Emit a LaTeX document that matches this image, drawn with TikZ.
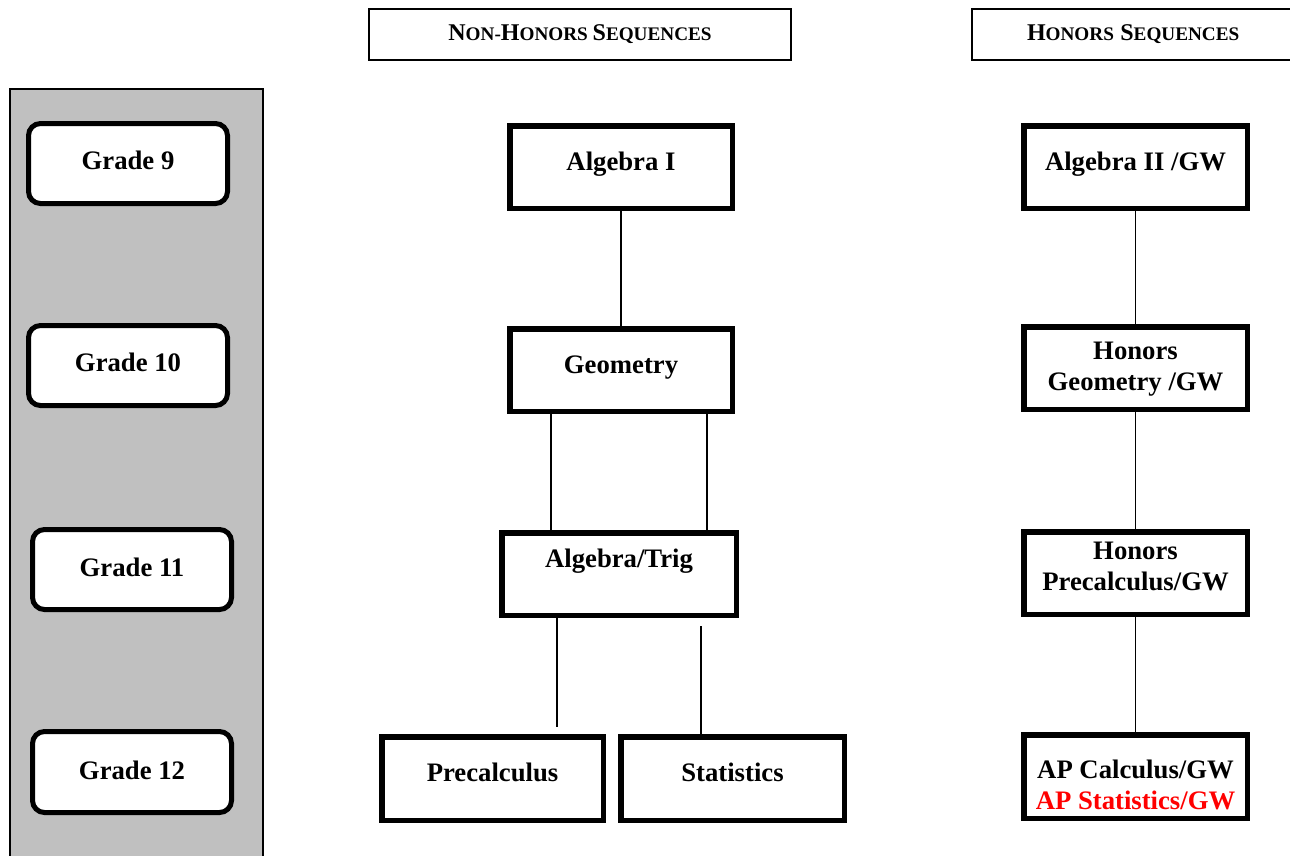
\documentclass[tikz,border=0pt]{standalone}
\usepackage{fontspec}
\setmainfont{Liberation Serif}
\usetikzlibrary{positioning,calc}
\definecolor{panelgray}{RGB}{192,192,192}
\definecolor{apred}{RGB}{255,0,0}
\newcommand\hdrsc[2]{{\fontsize{24}{28}\selectfont #1}{\fontsize{19.2}{24}\selectfont #2}}

\begin{document}
\begin{tikzpicture}[x=1pt, y=-1pt]
					\tikzstyle{hdr} = [draw, line width=2pt, inner sep=0pt, font=\bfseries\fontsize{19.2}{24}\selectfont]
					\tikzstyle{grade} = [draw, fill=white, line width=5pt, rounded corners=12pt, minimum width=199pt, minimum height=80pt]
					\tikzstyle{course} = [draw, line width=5.5pt, minimum width=222.5pt, minimum height=82.5pt]
					\tikzstyle{lbl} = [inner sep=0pt, text height=0.7em, text depth=0.22em, font=\bfseries\fontsize{26.7}{31}\selectfont]
					\tikzstyle{lbltwo} = [inner sep=0pt, align=center, font=\bfseries\fontsize{26.7}{31}\selectfont]
					\tikzstyle{link} = [line width=1.6pt]
					
					\useasboundingbox (0,0) rectangle (1290,855);
					
					\node[hdr,minimum width=422pt,minimum height=51pt] (nonhon) at (580,34.5) {\hdrsc{N}{ON-}\hdrsc{H}{ONORS} \hdrsc{S}{EQUENCES}};
					\node[hdr,minimum width=323pt,minimum height=51pt,text width=323pt,align=left] (hon) at (1133.5,34.5) {\hspace*{55pt}\hdrsc{H}{ONORS} \hdrsc{S}{EQUENCES}};
					
					\draw[line width=1.5pt, fill=panelgray] (10,89) rectangle (263,860);
					
					\node[grade] (grade9) at (128,163.5) {};
					\node[grade] (grade10) at (128,365.5) {};
					\node[grade] (grade11) at (132,569.5) {};
					\node[grade,minimum height=81pt] (grade12) at (132,772) {};
					\node[lbl] at ($(grade9)+(0,4)$) (grade9t) {Grade 9};
					\node[lbl] at ($(grade10)+(0,4)$) (grade10t) {Grade 10};
					\node[lbl] at ($(grade11)+(0,5)$) (grade11t) {Grade 11};
					\node[lbl] at ($(grade12)+(0,5)$) (grade12t) {Grade 12};
					
					\node[course] (alg1) at (621,167) {};
					\node[course] (geo) at (621,370) {};
					\node[course,minimum width=234.5pt] (algtrig) at (619,574) {};
					\node[course,minimum width=221.5pt,minimum height=83.5pt] (precalc) at (492.5,778.5) {};
					\node[course,minimum width=223.5pt,minimum height=83.5pt] (stats) at (732.5,778.5) {};
					
					\node[lbl] at ($(alg1)+(0,1.4)$) (alg1t) {Algebra I};
					\node[lbl] at ($(geo)+(0,1.4)$) (geot) {Geometry};
					\node[lbl] at ($(algtrig)+(0,-8.6)$) (algtrigt) {Algebra/Trig};
					\node[lbl] at ($(precalc)+(0,1)$) (precalct) {Precalculus};
					\node[lbl] at ($(stats)+(0,1)$) (statst) {Statistics};
					
					\node[course,minimum width=223.5pt] (alg2) at (1135.5,167) {};
					\node[course,minimum width=223.5pt] (hgeo) at (1135.5,368) {};
					\node[course,minimum width=223.5pt] (hprec) at (1135.5,573) {};
					\node[course,minimum width=223.5pt,minimum height=83.5pt] (apcalc) at (1135.5,776.5) {};
					
					\node[lbl] at ($(alg2)+(0,1.4)$) (alg2t) {Algebra II /GW};
					\node[lbltwo] at ($(hgeo)+(0,1.5)$) (hgeot) {Honors\\Geometry /GW};
					\node[lbltwo] at ($(hprec)+(0,-6.5)$) (hprect) {Honors\\Precalculus/GW};
					\node[lbltwo] at ($(apcalc)+(0,8.5)$) (apcalct) {AP Calculus/GW\\\textcolor{apred}{AP Statistics/GW}};
					
					\draw[link] (alg1.south) -- (geo.north);
					\coordinate (geoleft) at ($(geo.south)+(-70,0)$);
					\coordinate (georight) at ($(geo.south)+(86,0)$);
					\draw[link] (geoleft) -- (geoleft |- algtrig.north);
					\draw[link] (georight) -- (georight |- algtrig.north);
					\coordinate (precalcend) at (557,727);
					\coordinate (statsstart) at (701,626);
					\draw[line width=2pt] (precalcend |- algtrig.south) -- (precalcend);
					\draw[line width=2pt] (statsstart) -- (statsstart |- stats.north);
					
					\draw[line width=1.3pt] (alg2.south) -- (hgeo.north);
					\draw[line width=1.3pt] (hgeo.south) -- (hprec.north);
					\draw[line width=1.3pt] (hprec.south) -- (apcalc.north);
				\end{tikzpicture}
\end{document}
